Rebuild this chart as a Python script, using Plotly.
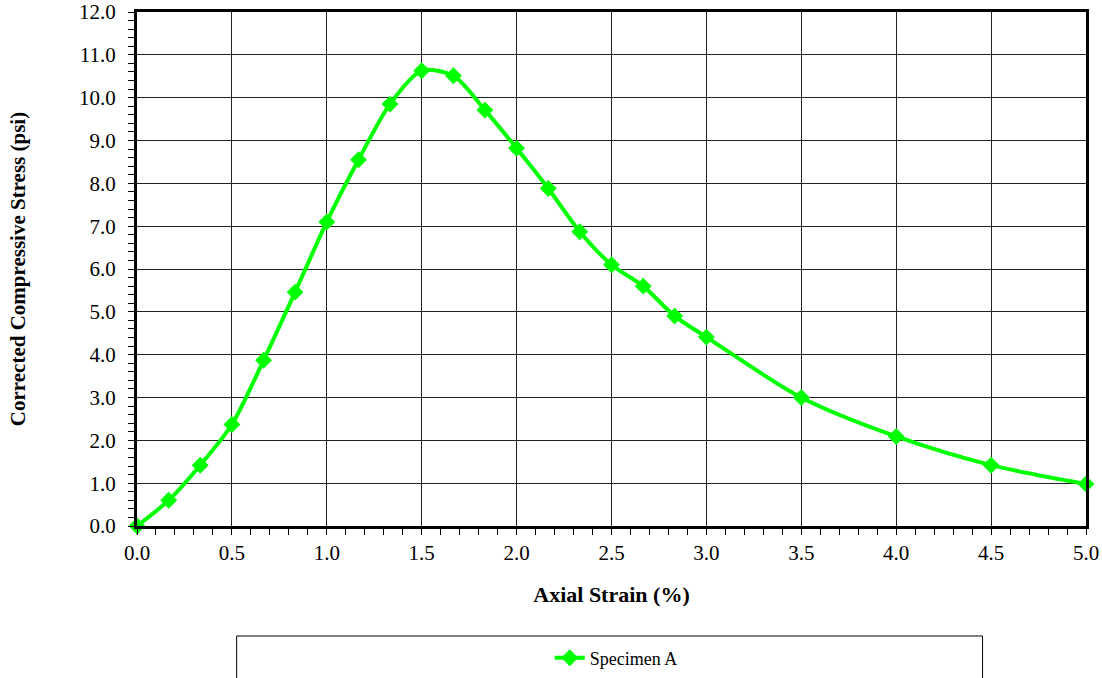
import plotly.graph_objects as go

strain = [0.0, 0.167, 0.333, 0.5, 0.667, 0.833, 1.0, 1.167, 1.333, 1.5, 1.667, 1.833,
          2.0, 2.167, 2.333, 2.5, 2.667, 2.833, 3.0, 3.5, 4.0, 4.5, 5.0]
stress = [0.0, 0.60, 1.42, 2.37, 3.87, 5.46, 7.10, 8.55, 9.85, 10.63, 10.51, 9.71,
          8.82, 7.88, 6.87, 6.10, 5.60, 4.90, 4.41, 3.00, 2.09, 1.42, 0.98]
series_name = "Specimen A"

FONT = "Liberation Serif, Times New Roman, serif"

fig = go.Figure()
fig.add_trace(go.Scatter(
    x=strain, y=stress, name=series_name, mode="lines+markers",
    line=dict(color="#00FF00", width=4, shape="spline", smoothing=0.8),
    marker=dict(symbol="diamond", size=13, color="#00FF00"),
    cliponaxis=False,
))

axis_common = dict(
    showline=True, linecolor="black", linewidth=3, mirror=True,
    showgrid=True, gridcolor="#222222", gridwidth=1,
    zeroline=False, ticks="outside", ticklen=6, tickcolor="black", tickwidth=1,
    automargin=False,
    tickfont=dict(family=FONT, size=21, color="black"),
)

fig.update_xaxes(
    range=[0, 5], dtick=0.5, tickformat=".1f", ticklabelstandoff=0,
    minor=dict(dtick=0.1, ticks="outside", ticklen=6, tickcolor="black", tickwidth=1, showgrid=False),
    title=dict(text="<b>Axial Strain (%)</b>", font=dict(family=FONT, size=22, color="black"), standoff=23),
    **axis_common,
)
fig.update_yaxes(
    range=[0, 12], dtick=1, tickformat=".1f", ticklabelstandoff=8,
    minor=dict(dtick=0.2, ticks="outside", ticklen=6, tickcolor="black", tickwidth=1, showgrid=False),
    title=dict(text="<b>Corrected Compressive Stress (psi)</b>", font=dict(family=FONT, size=21, color="black"), standoff=48),
    **axis_common,
)

fig.add_shape(type="rect", xref="paper", yref="paper",
              x0=0.105, x1=0.891, y0=-0.32, y1=-0.214,
              line=dict(color="black", width=1), fillcolor="rgba(0,0,0,0)", layer="below")

fig.update_layout(
    width=1102, height=678,
    margin=dict(l=137, r=16, t=12, b=152, autoexpand=False),
    paper_bgcolor="white", plot_bgcolor="white",
    showlegend=True,
    legend=dict(orientation="h", x=0.505, xanchor="center",
                yref="container", y=0.0295, yanchor="middle",
                font=dict(family=FONT, size=18, color="black"), bgcolor="rgba(0,0,0,0)"),
)

fig.write_html("out.html", config={"displayModeBar": False},
               post_script="document.body.style.margin='0px';")
